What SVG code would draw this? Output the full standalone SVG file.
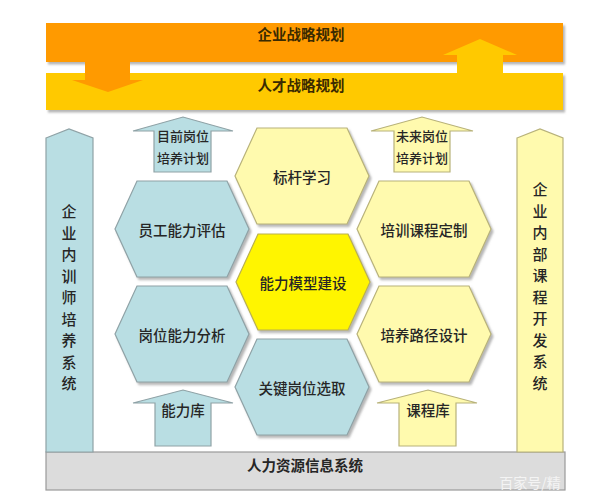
<svg xmlns="http://www.w3.org/2000/svg" xmlns:xlink="http://www.w3.org/1999/xlink" width="608" height="500" viewBox="0 0 608 500">
<style>
.t{font-family:"Noto Sans CJK SC","Liberation Sans",sans-serif;fill:#262626;text-anchor:middle;dominant-baseline:central}
.hx{font-size:14.5px;font-weight:500}
.bar{font-size:14.5px;font-weight:700;fill:#3a2a00}
.sm{font-size:13px;font-weight:500}
.vt{font-size:15px;font-weight:500}
.blue{fill:#B9DEE3;stroke:#8FA2A6;stroke-width:1.2}
.ly{fill:#FFFAAE;stroke:#B8B27A;stroke-width:1.2}
.by{fill:#FFF500;stroke:#B9B050;stroke-width:1.2}
</style>
<defs>
<filter id="sh" x="-10%" y="-10%" width="130%" height="130%">
<feDropShadow dx="2" dy="2.5" stdDeviation="1" flood-color="#7a7a7a" flood-opacity="0.55"/>
</filter>
<polygon id="hex" points="-45,-48 45,-48 67,0 45,48 -45,48 -67,0"/>
</defs>
<rect width="608" height="500" fill="#ffffff"/>

<g id="bars">
<g id="enterprise-strategy">
<rect x="46" y="23" width="517" height="39" fill="#FF9A00" filter="url(#sh)"/>
</g>
<g id="talent-strategy">
<rect x="46" y="73" width="517" height="37" fill="#FFC900" filter="url(#sh)"/>
</g>
</g>

<g id="connectors">
<polygon id="arrow-down-strategy" points="85,61 130,61 130,80 143,80 108,92 72,80 85,80" fill="#FF9A00"/>
<polygon id="arrow-up-strategy" points="457,80 457,55 443,55 480,39 517,55 503,55 503,80" fill="#FFC900"/>
<polygon id="arrow-current" class="blue" points="154,172 154,131 133,131 183,117 233,131 211,131 211,172"/>
<polygon id="arrow-future" class="ly" points="394,172 394,131 371,131 422,117 473,131 450,131 450,172"/>
<polygon id="arrow-competency-lib" class="blue" points="155,446 155,403 133,403 183,390 233,403 211,403 211,446"/>
<polygon id="arrow-course-lib" class="ly" points="399,446 399,403 377,403 428,390 477,403 456,403 456,446"/>
</g>

<g id="hr-system">
<rect x="46" y="452" width="519" height="38" fill="#DCDCDC" stroke="#9A9A9A" stroke-width="1.2"/>
<text class="t bar" x="305" y="464" style="fill:#262626">人力资源信息系统</text>
</g>

<g id="trainer-system">
<polygon class="blue" points="46,138 69,129 93,138 93,452 46,452"/>
<text class="t vt" x="69"><tspan x="69" y="210">企</tspan><tspan x="69" y="231.5">业</tspan><tspan x="69" y="253">内</tspan><tspan x="69" y="274.5">训</tspan><tspan x="69" y="296">师</tspan><tspan x="69" y="317.5">培</tspan><tspan x="69" y="339">养</tspan><tspan x="69" y="360.5">系</tspan><tspan x="69" y="382">统</tspan></text>
</g>

<g id="course-dev-system">
<polygon class="ly" points="517,138 540,129 563,138 563,452 517,452"/>
<text class="t vt" x="540"><tspan x="540" y="188">企</tspan><tspan x="540" y="209.5">业</tspan><tspan x="540" y="231">内</tspan><tspan x="540" y="252.5">部</tspan><tspan x="540" y="274">课</tspan><tspan x="540" y="295.5">程</tspan><tspan x="540" y="317">开</tspan><tspan x="540" y="338.5">发</tspan><tspan x="540" y="360">系</tspan><tspan x="540" y="381.5">统</tspan></text>
</g>

<g id="hex-employee-assess"><use xlink:href="#hex" href="#hex" x="182" y="229" class="blue" filter="url(#sh)"/><text class="t hx" x="182" y="229">员工能力评估</text></g>
<g id="hex-position-analysis"><use xlink:href="#hex" href="#hex" x="182" y="334" class="blue" filter="url(#sh)"/><text class="t hx" x="182" y="334">岗位能力分析</text></g>
<g id="hex-benchmark"><use xlink:href="#hex" href="#hex" x="302" y="176" class="ly" filter="url(#sh)"/><text class="t hx" x="302" y="176">标杆学习</text></g>
<g id="hex-model"><use xlink:href="#hex" href="#hex" x="303" y="282" class="by" filter="url(#sh)"/><text class="t hx" x="303" y="282">能力模型建设</text></g>
<g id="hex-key-position"><use xlink:href="#hex" href="#hex" x="302" y="387" class="blue" filter="url(#sh)"/><text class="t hx" x="302" y="387">关键岗位选取</text></g>
<g id="hex-course-custom"><use xlink:href="#hex" href="#hex" x="424" y="229" class="ly" filter="url(#sh)"/><text class="t hx" x="424" y="229">培训课程定制</text></g>
<g id="hex-path-design"><use xlink:href="#hex" href="#hex" x="424" y="334" class="ly" filter="url(#sh)"/><text class="t hx" x="424" y="334">培养路径设计</text></g>

<g id="labels">
<text class="t bar" x="301" y="33">企业战略规划</text>
<text class="t bar" x="301" y="84">人才战略规划</text>
<text class="t sm"><tspan x="183" y="135">目前岗位</tspan><tspan x="183" y="157">培养计划</tspan></text>
<text class="t sm"><tspan x="422" y="135">未来岗位</tspan><tspan x="422" y="157">培养计划</tspan></text>
<text class="t hx" x="183" y="409">能力库</text>
<text class="t hx" x="428" y="409">课程库</text>
<text class="t" x="530" y="482" style="font-size:14px;fill:#f4f4f4">百家号/精</text>
</g>
</svg>
